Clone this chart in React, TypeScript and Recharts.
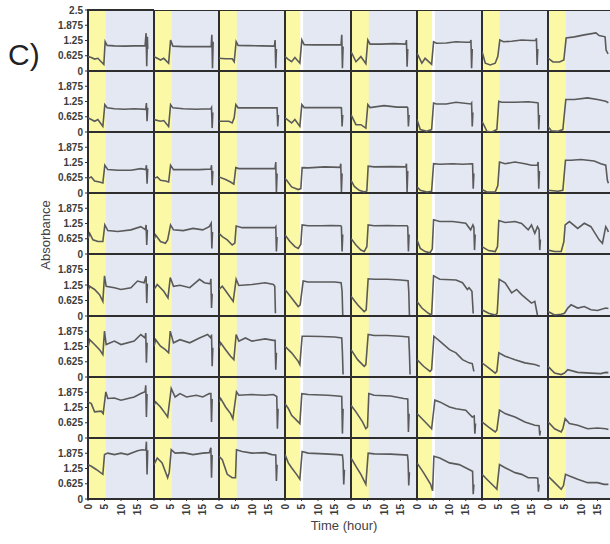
import React from 'react';
import { LineChart, Line, XAxis, YAxis, ReferenceArea } from 'recharts';

// ---- axis settings ----
const timeTicks = [0, 5, 10, 15];
const absTicksTop = [0, 0.625, 1.25, 1.875, 2.5];
const absTicks = [0, 0.625, 1.25, 1.875];
const timeDomain: [number, number] = [0, 20];
const absDomain: [number, number] = [0, 2.5];
const lightPeriod = [0.3, 5.4];
const lightPeriodShort = [0.3, 4.6];
const whiteGapCols = [3, 5];

type Pt = [number, number];

// ---- series values: [time (hour), absorbance] for each well, row by row ----
const row1: Pt[][] = [
  [[0,.59],[1,.55],[2,.49],[3,.52],[4,.38],[4.8,.27],[5.2,1.2],[5.8,1.05],[8,1.03],[11,1.02],[14,1.03],[17.3,1.03],[17.6,1.55],[17.8,.2],[18,1.4],[18.1,.9]],
  [[0,.59],[1,.52],[2,.45],[3,.52],[4.5,.32],[5.1,1.27],[5.8,1.02],[9,1.0],[12,1.0],[15,1.0],[17.6,1.0],[17.8,1.48],[18,.11],[18.2,1.2]],
  [[0,.52],[2,.5],[4,.5],[4.6,.38],[5.2,1.2],[5.8,1.05],[9,1.04],[13,1.03],[16.8,1.02],[17,1.27],[17.2,.11],[17.4,.9]],
  [[0,.59],[1,.48],[2,.38],[3,.55],[4.5,.32],[5.1,1.27],[5.8,1.08],[9,1.07],[13,1.07],[17,1.07],[17.2,1.48],[17.4,.11],[17.6,1.0]],
  [[0,.8],[1.5,.38],[3,.59],[4.5,.3],[5.1,1.27],[5.8,1.1],[9,1.1],[13,1.12],[16.6,1.1],[16.8,1.27],[17,.18],[17.2,.9]],
  [[0,.73],[1.5,.32],[2.5,.52],[4.5,.27],[5.1,1.2],[6,1.14],[9,1.15],[12,1.2],[15,1.18],[16.4,1.18],[16.6,1.27],[16.8,.11],[17,.9]],
  [[0,.8],[1,.32],[2.5,.25],[4,.32],[4.8,.6],[5.4,1.27],[6.5,1.2],[9,1.22],[12,1.27],[15,1.25],[16.3,1.25],[16.5,1.34],[16.7,.25],[16.9,.9]],
  [[0,.53],[1.5,.37],[3.5,.37],[4.8,.45],[5.5,1.35],[8,1.4],[11,1.48],[14.5,1.56],[15.5,1.45],[17.3,1.4],[17.6,.86],[18.2,.7]],
];
const row2: Pt[][] = [
  [[0,.58],[1,.51],[2,.44],[3,.51],[4.5,.23],[5.1,1.12],[5.8,.99],[8,.95],[11,.93],[14,.95],[17.5,.93],[17.7,1.19],[17.9,.44],[18.1,1.0]],
  [[0,.51],[2,.44],[3,.47],[4.5,.23],[5.1,1.12],[5.8,.99],[9,.95],[13,.93],[17.5,.95],[17.7,1.0],[17.9,.16],[18.1,.8]],
  [[0,.44],[3,.44],[4,.37],[4.6,.58],[5.1,1.12],[5.8,.99],[9,.99],[13,.99],[17.4,.99],[17.6,.99],[17.8,.23],[18,.7]],
  [[0,.58],[2,.37],[3,.51],[4.5,.23],[5.1,1.12],[5.8,1.0],[9,1.0],[13,1.0],[16.9,1.0],[17.1,.99],[17.3,.23],[17.5,.7]],
  [[0,.71],[1.5,.3],[3,.3],[4.5,.16],[5.1,1.12],[5.8,1.0],[10,1.08],[14,1.02],[17,1.02],[17.2,.99],[17.4,.23],[17.6,.7]],
  [[0,.51],[1,.1],[3,.03],[4.5,.1],[5.1,1.19],[6,1.15],[9,1.15],[12,1.22],[16.6,1.15],[16.8,1.19],[17,.23],[17.2,.8]],
  [[0,.44],[1.5,.03],[3,0],[4.5,.1],[5.1,1.26],[6,1.22],[10,1.22],[14,1.24],[16.8,1.2],[17,1.19],[17.2,.1],[17.4,.7]],
  [[0,.23],[1,.05],[3,.03],[4.5,.1],[5.4,1.33],[8,1.33],[12,1.4],[15,1.33],[17.5,1.26],[18.3,1.2]],
];
const row3: Pt[][] = [
  [[0,.59],[1,.66],[2,.49],[3.5,.45],[4.5,.41],[5.1,1.14],[6,.96],[9,.93],[13,.93],[16,1.0],[17.5,.96],[17.7,1.14],[17.9,.38],[18.1,1.0]],
  [[0,.59],[1,.66],[2,.52],[3.5,.49],[4.5,.45],[5.1,1.14],[6,.96],[10,.96],[14,.96],[17.5,.98],[17.7,1.14],[17.9,.32],[18.1,.9]],
  [[0,.66],[2,.55],[3.5,.45],[4.5,.36],[5.1,1.04],[6,1.0],[10,1.0],[14,1.0],[17,1.0],[17.2,1.27],[17.4,.04],[17.6,.8]],
  [[0,.59],[0.5,.52],[2,.25],[4,.14],[4.8,.18],[5.2,1.04],[7,1.03],[12,1.07],[16.7,1.05],[16.9,1.2],[17.1,.04],[17.3,.8]],
  [[0,.52],[1,.27],[2.5,.11],[4,.04],[4.8,.08],[5.2,1.1],[7,1.07],[12,1.08],[16.6,1.07],[16.8,1.2],[17,.04],[17.2,.9]],
  [[0,.25],[1,.11],[3,.04],[4.5,.07],[5.1,1.2],[7,1.18],[11,1.2],[14,1.18],[16.9,1.2],[17.1,1.2],[17.3,.18],[17.5,.8]],
  [[0,.14],[1.5,.04],[4,.04],[4.8,.3],[5.3,1.27],[7,1.2],[10,1.27],[13,1.2],[15,1.14],[16.8,1.14],[17,1.27],[17.2,.18],[17.4,.9]],
  [[0,.11],[3,.07],[4.5,.11],[5.3,1.34],[7,1.34],[10,1.37],[14,1.31],[16,1.2],[17.5,1.14],[18,.52],[18.3,.4]],
];
const row4: Pt[][] = [
  [[0,.64],[0.5,.85],[1.5,.58],[3,.51],[4.5,.51],[5.1,1.19],[6,.96],[9,.92],[13,.99],[16,1.12],[17.4,1.0],[17.6,1.19],[17.8,.37],[18,1.0]],
  [[0,.58],[0.5,.78],[2,.51],[3.5,.44],[4.2,.58],[5.1,1.19],[6,.99],[9,.96],[12,1.05],[15,.99],[17,1.12],[17.6,1.26],[17.8,.23],[18,.9]],
  [[0,.85],[1,.71],[2.5,.58],[4,.37],[4.8,.45],[5.2,1.15],[7,1.08],[11,1.08],[14,1.08],[17,1.08],[17.2,1.12],[17.4,.1],[17.6,.7]],
  [[0,.78],[1.5,.51],[3,.3],[4,.23],[4.8,.4],[5.2,1.19],[7,1.16],[11,1.16],[14,1.17],[16.9,1.16],[17.1,1.12],[17.3,.1],[17.5,.8]],
  [[0,.64],[1.5,.37],[3,.16],[4,.1],[4.8,.3],[5.2,1.19],[7,1.16],[11,1.17],[14,1.16],[17,1.16],[17.2,1.12],[17.4,.1],[17.6,.8]],
  [[0,.58],[1,.23],[2.5,.1],[4,.05],[4.7,.2],[5.1,1.4],[7,1.33],[11,1.33],[15,1.26],[16.5,.99],[17.2,1.19],[17.5,1.1],[17.7,.16],[17.9,.8]],
  [[0,.3],[2,.14],[4,.1],[4.7,.3],[5.1,1.37],[7,1.29],[10,1.33],[12,1.25],[14,.99],[15,1.19],[16,.85],[16.8,1.12],[17.3,1.0],[17.5,.16],[17.7,.6]],
  [[0,.16],[2,.1],[4,.1],[4.8,.5],[5.2,1.19],[6.5,1.33],[9,1.05],[11,1.26],[13,1.12],[15.5,.58],[16.5,.44],[17.5,1.12],[18,1.0],[18.3,.9]],
];
const row5: Pt[][] = [
  [[0,1.0],[0.5,1.2],[2,1.07],[3.5,.86],[4.5,.59],[5,1.62],[5.5,1.2],[8,1.14],[10,1.07],[13,1.14],[15,1.41],[17,1.34],[17.6,1.6],[17.8,.52],[18,1.3]],
  [[0,1.07],[1,1.27],[3,1.0],[4.3,.73],[5,1.55],[6,1.2],[8,1.24],[11,1.14],[14,1.48],[15.5,1.34],[17.3,1.3],[17.5,1.5],[17.7,.32],[17.9,.9]],
  [[0,1.07],[1,1.2],[2.5,.93],[4.3,.59],[5.2,1.48],[6,1.23],[10,1.27],[14,1.34],[16.5,1.27],[16.9,1.2],[17.1,.11]],
  [[0,1.07],[2,.73],[4,.38],[4.6,.45],[5.5,1.41],[7,1.37],[11,1.37],[15,1.37],[17,1.34],[17.3,1.0],[17.5,.04]],
  [[0,.8],[2,.45],[4,.18],[4.6,.25],[5.2,1.5],[7,1.48],[11,1.48],[15,1.45],[17.3,1.42],[17.5,1.0],[17.7,.04]],
  [[0,.59],[1.5,.32],[3.5,.11],[4.5,.04],[5.1,1.62],[7,1.48],[12,1.45],[14,1.34],[15.5,1.07],[16,1.14],[16.9,1.0],[17.3,.1]],
  [[0,.25],[2,.11],[4,.04],[4.6,.11],[5.2,1.48],[7,1.34],[9,.93],[10.5,1.07],[12,.86],[15,.52],[16,.59],[16.8,.04]],
  [[0,.18],[2,.04],[4,.07],[5,.11],[6,.32],[7,.45],[9,.32],[11,.38],[13,.25],[15,.22],[17.5,.32],[18.3,.3]],
];
const row6: Pt[][] = [
  [[0,1.19],[0.5,1.53],[2,1.33],[3.5,1.12],[4.5,.92],[5,1.88],[5.5,1.33],[8,1.47],[10,1.33],[14,1.47],[16,1.74],[17.3,1.6],[17.5,1.8],[17.7,.58],[17.9,1.4]],
  [[0,1.26],[0.5,1.53],[2,1.26],[3.5,1.12],[4.5,.99],[5,1.88],[6,1.4],[8,1.53],[11,1.4],[14,1.6],[16.5,1.74],[17.5,1.6],[17.7,1.74],[17.9,.44],[18.1,1.2]],
  [[0,1.19],[0.5,1.4],[2,1.12],[3.5,.85],[4.5,.71],[5.2,1.74],[6,1.47],[8,1.6],[10,1.47],[14,1.56],[16.5,1.5],[17,1.5],[17.2,.3],[17.4,1.0]],
  [[0,1.26],[2,.99],[4,.64],[4.5,.51],[5.2,1.67],[7,1.67],[11,1.66],[15,1.64],[17.2,1.6],[17.4,1.0],[17.6,.1]],
  [[0,1.12],[2,.71],[4,.44],[4.5,.51],[5.2,1.74],[7,1.7],[11,1.7],[15,1.67],[17.5,1.64],[17.7,1.0],[17.9,.1]],
  [[0,.71],[2,.44],[4,.23],[4.5,.3],[5.2,1.67],[7,1.47],[10,1.12],[12,.99],[14,.71],[16,.58],[17,.55],[17.5,.23]],
  [[0,.58],[2,.37],[4,.16],[4.5,.23],[5.1,.99],[7,.85],[10,.71],[13,.58],[16,.51],[17.5,.44]],
  [[0,.44],[2,.16],[4,.1],[5,.16],[6,.3],[9,.19],[13,.16],[16,.14],[17.5,.19],[18.3,.18]],
];
const row7: Pt[][] = [
  [[0,1.48],[1,1.41],[2,1.07],[4,1.1],[4.6,1.0],[5.4,1.89],[6,1.62],[8,1.64],[10,1.55],[14,1.68],[16,1.82],[17.3,1.9],[17.5,2.16],[17.7,.86],[17.9,1.8]],
  [[0,1.34],[0.5,1.48],[2,1.27],[3.5,1.0],[4.2,.86],[5.3,2.03],[6.5,1.68],[8,1.82],[10,1.68],[13,1.75],[15,1.68],[17,1.82],[17.5,1.82],[17.7,.66],[17.9,1.6]],
  [[0,1.48],[0.5,1.62],[2,1.27],[3.5,1.0],[4.2,.79],[5.3,1.89],[6,1.75],[10,1.78],[14,1.75],[16.5,1.78],[17.5,1.7],[17.7,.38],[17.9,1.2]],
  [[0,1.41],[1,1.21],[2,.93],[4,.66],[4.5,.59],[5.1,1.82],[7,1.78],[13,1.75],[16,1.72],[17.2,1.7],[17.4,.18],[17.6,1.2]],
  [[0,1.34],[1.5,1.07],[3.5,.66],[4.5,.38],[5,.45],[5.4,1.82],[7,1.75],[12,1.72],[16,1.62],[17.2,1.6],[17.4,.25],[17.6,1.0]],
  [[0,1.0],[2,.73],[4,.45],[4.5,.38],[5.5,1.55],[7,1.48],[10,1.27],[12,1.2],[15,1.14],[17,.86],[17.6,.9],[17.8,.18],[18,.6]],
  [[0,.66],[2,.45],[4,.25],[4.5,.32],[5.3,1.14],[7,1.0],[10,.86],[13,.66],[16,.52],[17.3,.5],[17.5,.1],[17.7,.3]],
  [[0,.66],[2,.38],[4,.25],[4.5,.38],[5.2,.79],[6.5,.59],[9,.52],[12,.38],[15,.41],[17.5,.38],[18.3,.35]],
];
const row8: Pt[][] = [
  [[0,1.41],[1,1.34],[2.5,1.21],[4.5,1.01],[5,1.82],[6,1.88],[8,1.82],[10,1.88],[12,1.82],[15,1.98],[16.5,2.02],[17.5,2.0],[17.7,2.35],[17.9,1.0],[18.1,2.0]],
  [[0,1.41],[1,1.68],[2.5,1.48],[4.2,.87],[4.7,1.1],[5.3,2.02],[6.5,1.88],[9,1.9],[12,1.82],[15,1.88],[17,1.9],[17.5,2.1],[17.7,.87],[17.9,1.8]],
  [[0,1.75],[1,1.61],[2.5,1.01],[4,.87],[5,.87],[5.3,2.02],[7,1.95],[10,1.88],[14,1.9],[16,1.82],[17.2,1.8],[17.4,.74],[17.6,1.4]],
  [[0,1.82],[1,1.48],[2,1.28],[3.5,1.01],[4.5,.81],[5.2,1.95],[7,1.88],[12,1.85],[16,1.82],[17.4,1.8],[17.6,1.55],[17.8,.6],[18,1.2]],
  [[0,1.68],[1.5,1.34],[3,1.01],[4.5,.6],[5.2,1.88],[7,1.85],[12,1.84],[16,1.81],[17.1,1.8],[17.3,1.55],[17.5,.55],[17.7,1.1]],
  [[0,1.48],[2,1.08],[4.2,.6],[4.8,.34],[5.2,1.75],[7,1.68],[10,1.48],[13,1.41],[16,1.21],[16.9,1.15],[17.1,1.14],[17.3,.2],[17.5,.6]],
  [[0,1.01],[2,.74],[4,.47],[4.5,.4],[5.3,1.41],[7,1.28],[10,1.08],[12,1.01],[14,.87],[16,.87],[16.9,.85],[17.1,.3],[17.3,.6]],
  [[0,.94],[2,.67],[4,.4],[4.7,.55],[5.3,1.01],[6.5,.94],[9,.81],[12,.67],[15,.67],[17,.6],[18.3,.6]],
];
const rows = [row1, row2, row3, row4, row5, row6, row7, row8];

// ---- styling ----
const BLUE = '#e4e8f3';
const YELLOW = '#fbf9a6';
const FRAME = '#2e2e2e';
const LINE = '#5a5a5a';
const FONT = '"Liberation Sans", Arial, sans-serif';

const GRID_X0 = 88;
const CELL_W = 65.7;
const GRID_Y0 = 10;
const CELL_H = 61.1;
const YAXIS_W = 50;
const XAXIS_H = 24;
const SIDE_PAD = 6;

const YTick = (props: any) => {
  const { x, y, payload } = props;
  return (
    <text x={x} y={y} dy="0.35em" textAnchor="end" fontSize={10} fontWeight="bold" fill="#3c3c3c" fontFamily={FONT}>
      {payload.value}
    </text>
  );
};

const XTick = (props: any) => {
  const { x, y, payload } = props;
  const ty = y + 1;
  return (
    <text x={x} y={ty} dy="0.35em" textAnchor="end" transform={`rotate(-90 ${x} ${ty})`} fontSize={10} fontWeight="bold" fill="#3c3c3c" fontFamily={FONT}>
      {payload.value}
    </text>
  );
};

function Cell({ r, c, pts }: { r: number; c: number; pts: Pt[] }) {
  const data = pts.map(([t, v]) => ({ t, v }));
  const left = Math.round(GRID_X0 + c * CELL_W);
  const right = Math.round(GRID_X0 + (c + 1) * CELL_W);
  const top = Math.round(GRID_Y0 + r * CELL_H);
  const bottom = Math.round(GRID_Y0 + (r + 1) * CELL_H);
  const isLeft = c === 0;
  const isBottom = r === rows.length - 1;
  const mt = isLeft ? 7 : 0;
  const mb = isLeft && !isBottom ? 7 : 0;
  const ml = isBottom && !isLeft ? SIDE_PAD : 0;
  const mr = isBottom ? SIDE_PAD : 0;
  const w = right - left + (isLeft ? YAXIS_W : 0) + ml + mr;
  const h = bottom - top + mt + mb + (isBottom ? XAXIS_H : 0);
  const gap = whiteGapCols.includes(c);
  const band = gap ? lightPeriodShort : lightPeriod;
  return (
    <div style={{ position: 'absolute', left: left - (isLeft ? YAXIS_W : 0) - ml, top: top - mt }}>
      <LineChart width={w} height={h} data={data} margin={{ top: mt, right: mr, bottom: mb, left: ml }}>
        <XAxis
          type="number"
          dataKey="t"
          domain={timeDomain}
          ticks={timeTicks}
          interval={0}
          allowDataOverflow
          hide={!isBottom}
          height={XAXIS_H}
          tick={<XTick />}
          tickSize={2}
          tickLine={{ stroke: FRAME }}
          axisLine={false}
        />
        <YAxis
          type="number"
          domain={absDomain}
          ticks={r === 0 ? absTicksTop : absTicks}
          interval={0}
          allowDataOverflow
          hide={!isLeft}
          width={YAXIS_W}
          tick={<YTick />}
          tickSize={3}
          tickLine={{ stroke: FRAME }}
          axisLine={false}
        />
        <ReferenceArea x1={0} x2={20} y1={0} y2={2.5} fill={BLUE} fillOpacity={1} stroke="none" />
        {gap && <ReferenceArea x1={band[1]} x2={5.5} y1={0} y2={2.5} fill="#ffffff" fillOpacity={1} stroke="none" />}
        <ReferenceArea x1={band[0]} x2={band[1]} y1={0} y2={2.5} fill={YELLOW} fillOpacity={1} stroke="none" />
        <Line type="linear" dataKey="v" stroke={LINE} strokeWidth={1.6} dot={false} isAnimationActive={false} />
        <ReferenceArea x1={0} x2={20} y1={0} y2={2.5} fill="none" fillOpacity={0} stroke={FRAME} strokeWidth={2} />
      </LineChart>
    </div>
  );
}

export default function App() {
  return (
    <div style={{ position: 'absolute', left: 0, top: 0, width: 610, height: 544, overflow: 'hidden', background: '#ffffff' }}>
      {rows.map((row, r) => row.map((pts, c) => <Cell key={`${r}-${c}`} r={r} c={c} pts={pts} />))}
      <svg width={610} height={544} style={{ position: 'absolute', left: 0, top: 0, pointerEvents: 'none' }}>
        <text x={8} y={65} fontSize={30} fill="#222" fontFamily={FONT}>C)</text>
        <text x={50} y={235} fontSize={13} fill="#444" fontFamily={FONT} textAnchor="middle" transform="rotate(-90 50 235)">Absorbance</text>
        <text x={344} y={530} fontSize={13} fill="#444" fontFamily={FONT} textAnchor="middle">Time (hour)</text>
      </svg>
    </div>
  );
}
